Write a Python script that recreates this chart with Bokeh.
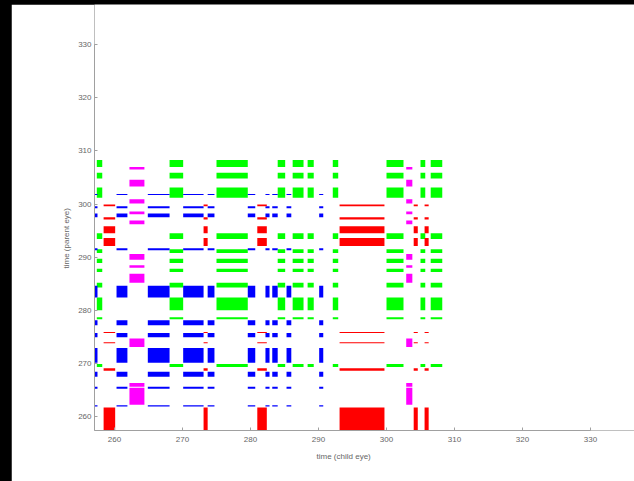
from bokeh.plotting import figure
from bokeh.models import ColumnDataSource, FixedTicker, Range1d, GlobalInlineStyleSheet, Title
from bokeh.embed import file_html
from bokeh.resources import INLINE

# ---- data: event intervals on each time axis, per category ----
tick_values = [260, 270, 280, 290, 300, 310, 320, 330]

# child eye (x) intervals
green_x0 = [257.4, 268.1, 275.0, 284.0, 286.2, 288.4, 292.1, 300.0, 305.0, 306.5]
green_x1 = [258.2, 270.1, 279.6, 285.1, 287.8, 289.3, 292.9, 302.5, 305.7, 308.2]
blue_x0 = [257.1, 260.3, 264.9, 270.1, 273.7, 279.6, 282.2, 283.2, 285.3, 290.1]
blue_x1 = [257.5, 261.9, 268.1, 273.1, 274.7, 280.7, 282.8, 284.0, 286.0, 290.7]
red_x0 = [258.4, 273.1, 281.0, 293.1, 304.0, 305.6]
red_x1 = [260.1, 273.7, 282.4, 299.7, 304.6, 306.2]
magenta_x0 = [262.2, 302.9]
magenta_x1 = [264.4, 303.8]

# parent eye (y) intervals
green_y0 = [307.0, 304.8, 301.2, 293.4, 290.8, 288.9, 287.2, 284.3, 280.0, 278.3, 269.3]
green_y1 = [308.3, 305.9, 303.1, 294.5, 291.5, 289.7, 287.8, 285.2, 282.4, 278.7, 269.9]
blue_y0 = [301.7, 299.2, 297.5, 291.3, 282.4, 277.2, 274.9, 270.1, 267.5, 265.2, 261.9]
blue_y1 = [301.9, 299.6, 298.2, 291.7, 284.6, 278.1, 275.7, 272.9, 268.4, 265.6, 262.1]
red_y0 = [299.6, 297.1, 294.5, 292.1, 275.7, 273.8, 268.6, 257.4]
red_y1 = [299.9, 297.5, 295.8, 293.6, 275.9, 274.0, 269.1, 261.7]
magenta_y0 = [306.5, 303.3, 300.1, 298.1, 296.2, 289.5, 288.0, 285.2, 273.1, 265.6, 262.2]
magenta_y1 = [307.0, 304.6, 300.9, 298.6, 296.9, 290.6, 288.5, 286.9, 274.7, 266.3, 265.4]

x_start, y_start, t_end = 257.06, 257.36, 330

categories = {
    "#00ff00": (green_x0, green_x1, green_y0, green_y1),
    "#0000ff": (blue_x0, blue_x1, blue_y0, blue_y1),
    "#ff0000": (red_x0, red_x1, red_y0, red_y1),
    "#ff00ff": (magenta_x0, magenta_x1, magenta_y0, magenta_y1),
}

left, right, bottom, top, color = [], [], [], [], []
for col, (xs0, xs1, ys0, ys1) in categories.items():
    for a, b in zip(xs0, xs1):
        for c, d in zip(ys0, ys1):
            left.append(a); right.append(b); bottom.append(c); top.append(d); color.append(col)

src = ColumnDataSource(dict(left=left, right=right, bottom=bottom, top=top, color=color))

# frame runs to the canvas edges; axes are bounded at 330 (MATLAB "box off" look)
p = figure(width=623, height=477, output_backend="svg", toolbar_location=None, tools="",
           x_range=Range1d(x_start, 336.47), y_range=Range1d(y_start, 337.58),
           min_border_left=83, min_border_right=0, min_border_top=0, min_border_bottom=51,
           frame_width=540, frame_height=426)
p.quad(left="left", right="right", bottom="bottom", top="top", color="color",
       line_color=None, source=src)

p.outline_line_color = None
p.grid.visible = False
p.background_fill_color = "white"
p.border_fill_color = "white"

for ax in (p.xaxis[0], p.yaxis[0]):
    ax.ticker = FixedTicker(ticks=tick_values)
    ax.axis_line_color = "#a0a0a0"
    ax.major_tick_line_color = "#a0a0a0"
    ax.major_tick_in = 3
    ax.major_tick_out = 0
    ax.minor_tick_line_color = None
    ax.major_label_text_color = "#666666"
    ax.major_label_text_font = "Liberation Sans"
    ax.major_label_text_font_size = "8px"

p.xaxis.bounds = (x_start, t_end)
p.yaxis.bounds = (y_start, t_end)
p.xaxis.major_label_standoff = 6
p.yaxis.major_label_standoff = 3

title_style = dict(text_color="#666666", text_font="Liberation Sans", text_font_size="8px",
                   text_font_style="normal", align="left")
p.add_layout(Title(text="time (child eye)", offset=222, **title_style), "below")
p.add_layout(Title(text="time (parent eye)", offset=162, **title_style), "left")

p.stylesheets = [GlobalInlineStyleSheet(css="body{background:#000;margin:4px 0 0 11px;}")]

open("out.html", "w").write(file_html(p, INLINE))
